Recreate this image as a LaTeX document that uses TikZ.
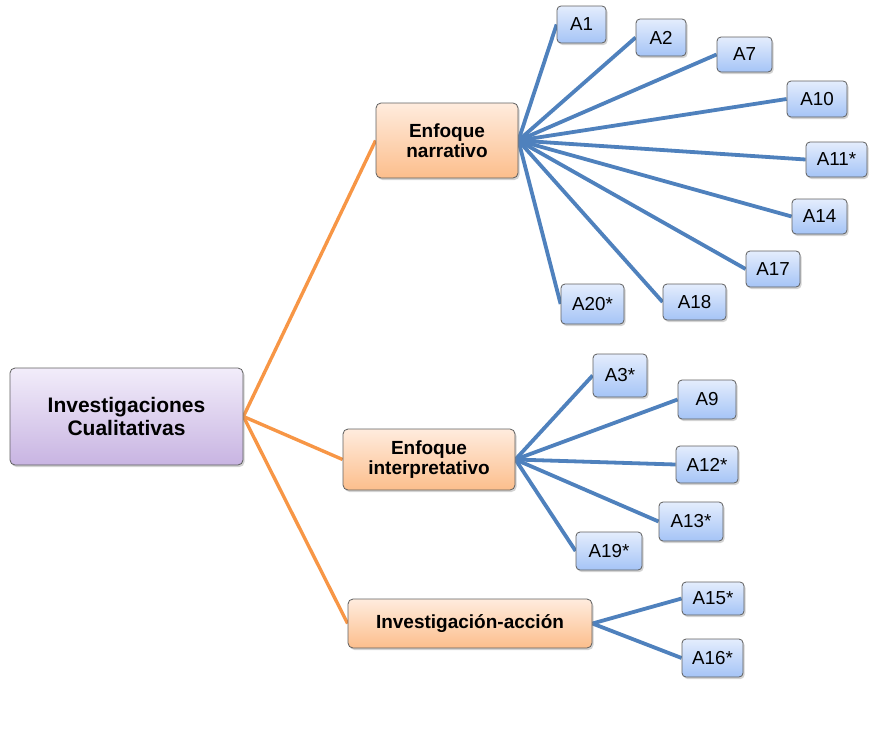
\documentclass[tikz,border=0pt]{standalone}
\usepackage{fontspec}
\setmainfont{Liberation Sans}
\usetikzlibrary{shadows,backgrounds}
\definecolor{bline}{RGB}{79,129,189}
\definecolor{oline}{RGB}{247,150,70}
\definecolor{bord}{RGB}{95,95,95}
\definecolor{rtop}{RGB}{242,237,250}
\definecolor{rbot}{RGB}{200,180,226}
\definecolor{otop}{RGB}{255,236,222}
\definecolor{obot}{RGB}{252,190,140}
\definecolor{ltop}{RGB}{228,237,253}
\definecolor{lbot}{RGB}{165,196,246}
\begin{document}
\begin{tikzpicture}[x=1pt,y=-1pt,
  box/.style={draw=bord, line width=0.8pt, rounded corners=5pt, inner sep=0pt, align=center,
    drop shadow={shadow xshift=1.5pt, shadow yshift=-2pt, opacity=0.35}},
  rootbox/.style={box, top color=rtop, bottom color=rbot, font=\fontsize{21}{23}\selectfont\bfseries},
  midbox/.style={box, top color=otop, bottom color=obot, font=\fontsize{19}{20}\selectfont\bfseries},
  leaf/.style={box, rounded corners=4pt, top color=ltop, bottom color=lbot, font=\fontsize{18.8}{20}\selectfont},
  oedge/.style={draw=oline, line width=3.4pt},
  bedge/.style={draw=bline, line width=3.8pt}]
\useasboundingbox (0,0) rectangle (885,739);
\node[rootbox, minimum width=233pt, minimum height=97pt] (root) at (126.5,416.5) {Investigaciones\\Cualitativas};
\node[midbox, minimum width=142pt, minimum height=75pt] (nar) at (447,140.5) {Enfoque\\narrativo};
\node[midbox, minimum width=172pt, minimum height=61pt] (int) at (429,459.5) {Enfoque\\interpretativo};
\node[midbox, minimum width=244pt, minimum height=49pt] (ia) at (470,623.5) {Investigación-acción};
\node[leaf, minimum width=49pt, minimum height=37pt] (a1) at (581.5,24.5) {A1};
\node[leaf, minimum width=50pt, minimum height=37pt] (a2) at (661,37.5) {A2};
\node[leaf, minimum width=55pt, minimum height=35pt] (a7) at (744.5,54.5) {A7};
\node[leaf, minimum width=60pt, minimum height=36pt] (a10) at (817,99) {A10};
\node[leaf, minimum width=61pt, minimum height=35pt] (a11) at (836.5,159.5) {A11*};
\node[leaf, minimum width=55pt, minimum height=35pt] (a14) at (819.5,216.5) {A14};
\node[leaf, minimum width=54pt, minimum height=36pt] (a17) at (773,269) {A17};
\node[leaf, minimum width=63pt, minimum height=36pt] (a18) at (694.5,302) {A18};
\node[leaf, minimum width=63pt, minimum height=40pt] (a20) at (592.5,304) {A20*};
\node[leaf, minimum width=54pt, minimum height=43pt] (a3) at (620,375.5) {A3*};
\node[leaf, minimum width=58pt, minimum height=39pt] (a9) at (707,399.5) {A9};
\node[leaf, minimum width=62pt, minimum height=37pt] (a12) at (707,464.5) {A12*};
\node[leaf, minimum width=64pt, minimum height=39pt] (a13) at (691,521.5) {A13*};
\node[leaf, minimum width=66pt, minimum height=38pt] (a19) at (609,551) {A19*};
\node[leaf, minimum width=62pt, minimum height=33pt] (a15) at (713,598.5) {A15*};
\node[leaf, minimum width=61pt, minimum height=38pt] (a16) at (712.5,658) {A16*};
\begin{scope}[on background layer]
  \foreach \t in {nar,int,ia} \draw[oedge] (root.east) -- (\t.west);
  \foreach \t in {a1,a2,a7,a10,a11,a14,a17,a18,a20} \draw[bedge] (nar.east) -- (\t.west);
  \foreach \t in {a3,a9,a12,a13,a19} \draw[bedge] (int.east) -- (\t.west);
  \foreach \t in {a15,a16} \draw[bedge] (ia.east) -- (\t.west);
\end{scope}
\end{tikzpicture}
\end{document}
